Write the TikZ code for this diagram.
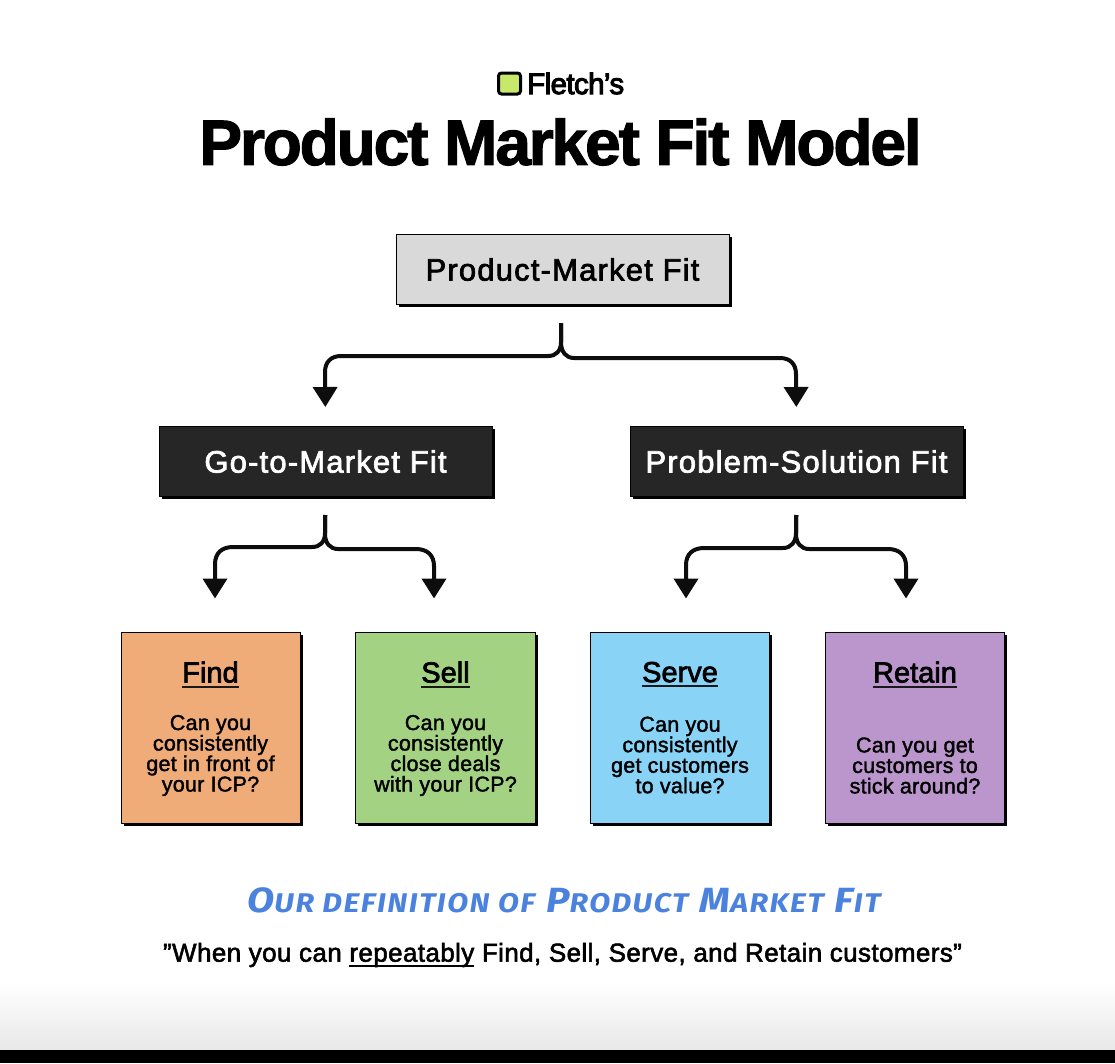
\documentclass[tikz,border=0pt]{standalone}
\usepackage{fontspec}
\setmainfont{Liberation Sans}
\newfontfamily\medfont{Liberation Sans}
\newfontfamily\widefont{Liberation Sans}[LetterSpace=3.8]
\newfontfamily\cardfont{Liberation Sans}[LetterSpace=1.2]
\newfontfamily\quotefont{Liberation Sans}[LetterSpace=1.5]
\newfontfamily\titlefont{Liberation Sans}[LetterSpace=-3.3]
\newfontfamily\brandfont{Liberation Sans}[LetterSpace=-2.0]
\newfontfamily\handfont{Fira Sans}[LetterSpace=5]
\usetikzlibrary{arrows.meta,shadows}
\definecolor{greybox}{HTML}{D9D9D9}
\definecolor{darkbox}{HTML}{262626}
\definecolor{orangebox}{HTML}{EFAB78}
\definecolor{greenbox}{HTML}{A3D283}
\definecolor{bluebox}{HTML}{89D3F7}
\definecolor{purplebox}{HTML}{BB96CC}
\definecolor{logogreen}{HTML}{C8E86C}
\definecolor{handblue}{HTML}{4A82DE}
\newcommand{\emb}[2]{\special{pdf:code 2 Tr #1 w}#2\special{pdf:code 0 Tr}}
\newlength{\ulwd}
\newcommand{\ulword}[1]{\settowidth{\ulwd}{#1}\leavevmode\rlap{\rule[-5.5pt]{\ulwd}{2.2pt}}#1}
\newcommand{\hsc}[2]{{\fontsize{35}{35}\selectfont #1}{\fontsize{27}{27}\selectfont #2}}
\tikzset{
  x=1pt,y=-1pt,
  boxbase/.style={draw=black,line width=1pt,inner sep=0pt,general shadow={shadow xshift=2.5pt,shadow yshift=-2.5pt,fill=black}},
  widebox/.style={boxbase,minimum width=333pt,minimum height=70pt,font=\widefont\fontsize{31}{31}\selectfont},
  cardbox/.style={boxbase,minimum width=179.5pt,minimum height=191pt},
  cardhead/.style={inner sep=0pt,font=\medfont\fontsize{29}{29}\selectfont,text depth=4pt},
  cardtext/.style={inner sep=0pt,align=center,font=\cardfont\fontsize{21.5}{20.5}\selectfont},
  headrule/.style={line width=2pt,draw=black!90},
  conn/.style={draw=black!95,line width=4pt,-{Triangle[width=24pt,length=20pt]}},
}
\begin{document}
\begin{tikzpicture}
\useasboundingbox (0,0) rectangle (1115,1063);
\fill[white] (0,0) rectangle (1115,1063);
\shade[top color=white,bottom color=black!9,shading angle=0] (0,982) rectangle (1115,1050);
\fill[black] (0,1050) rectangle (1115,1063);

% header
\node[draw=black,line width=3pt,fill=logogreen,rounded corners=3pt,minimum width=22pt,minimum height=21pt,inner sep=0pt] (logo) at (509.5,83.5) {};
\node[anchor=west,inner sep=0pt,font=\brandfont\fontsize{29.5}{29.5}\selectfont] (brand) at (527,83.5) {\emb{1}{Fletch’s}};
\node[inner sep=0pt,font=\titlefont\bfseries\fontsize{64}{64}\selectfont] (title) at (560.5,142) {\emb{1.2}{Product Market Fit Model}};

% level 1 and 2
\node[widebox,fill=greybox] (pm) at (562.5,269.5) {\emb{0.7}{Product-Market Fit}};
\node[widebox,fill=darkbox,text=white] (gtm) at (325.5,461.5) {\emb{0.7}{Go-to-Market Fit}};
\node[widebox,fill=darkbox,text=white] (psf) at (796.5,461.5) {\emb{0.7}{Problem-Solution Fit}};

% cards
\node[cardbox,fill=orangebox] (find) at (210.75,727.5) {};
\node[cardbox,fill=greenbox] (sell) at (445.25,727.5) {};
\node[cardbox,fill=bluebox] (serve) at (680,727.5) {};
\node[cardbox,fill=purplebox] (retain) at (915,727.5) {};

\node[cardhead] (findh) at (210.5,674) {\emb{0.7}{Find}};
\node[cardhead] (sellh) at (445.5,674) {\emb{0.7}{Sell}};
\node[cardhead] (serveh) at (680,674) {\emb{0.7}{Serve}};
\node[cardhead] (retainh) at (915,674) {\emb{0.7}{Retain}};
\foreach \n in {findh,sellh,serveh,retainh}
  \draw[headrule] (\n.south west) -- (\n.south east);

\node[cardtext] (findt) at (210.5,755.5) {\emb{0.35}{Can you\\consistently\\get in front of\\your ICP?}};
\node[cardtext] (sellt) at (445.5,755.5) {\emb{0.35}{Can you\\consistently\\close deals\\with your ICP?}};
\node[cardtext] (servet) at (680,755) {\emb{0.35}{Can you\\consistently\\get customers\\to value?}};
\node[cardtext] (retaint) at (915,765.5) {\emb{0.35}{Can you get\\customers to\\stick around?}};

% connectors
\draw[conn,shorten <=18pt,shorten >=19pt] (pm.south -| 561,0) -- (561,342)
  .. controls (561,351) and (556,356) .. (548,356) -- (341,356)
  .. controls (331,356) and (325,362) .. (325,372) -- (gtm.north);
\draw[conn,shorten <=18pt,shorten >=19pt] (pm.south -| 561,0) -- (561,342)
  .. controls (561,352) and (566,358) .. (574,358) -- (780,358)
  .. controls (790,358) and (796,364) .. (796,374) -- (psf.north);

\draw[conn,shorten <=18pt,shorten >=33pt] (gtm.south) -- (325,533)
  .. controls (325,542) and (320,547) .. (312,547) -- (233,547)
  .. controls (222,547) and (215,553) .. (215,564) -- (find.north -| 215,0);
\draw[conn,shorten <=18pt,shorten >=33pt] (gtm.south) -- (325,534)
  .. controls (325,543) and (330,549) .. (338,549) -- (416,549)
  .. controls (427,549) and (434,555) .. (434,566) -- (sell.north -| 434,0);
\draw[conn,shorten <=18pt,shorten >=33pt] (psf.south) -- (796,533)
  .. controls (796,542) and (791,548) .. (783,548) -- (704,548)
  .. controls (693,548) and (686,554) .. (686,565) -- (serve.north -| 686,0);
\draw[conn,shorten <=18pt,shorten >=33pt] (psf.south) -- (796,534)
  .. controls (796,543) and (801,549) .. (809,549) -- (888,549)
  .. controls (899,549) and (906,555) .. (906,566) -- (retain.north -| 906,0);

% footer
\node[inner sep=0pt,text=handblue,font=\handfont\bfseries\itshape,xscale=1.13,transform shape] (deftext) at (564,900)
  {\hsc{O}{UR DEFINITION OF}\hspace{10pt}\hsc{P}{RODUCT}\hspace{10pt}\hsc{M}{ARKET}\hspace{10pt}\hsc{F}{IT}};
\node[inner sep=0pt,font=\quotefont\fontsize{26}{26}\selectfont] (quote) at (562.5,955)
  {\emb{0.55}{”When you can \ulword{repeatably} Find, Sell, Serve, and Retain customers”}};
\end{tikzpicture}
\end{document}
